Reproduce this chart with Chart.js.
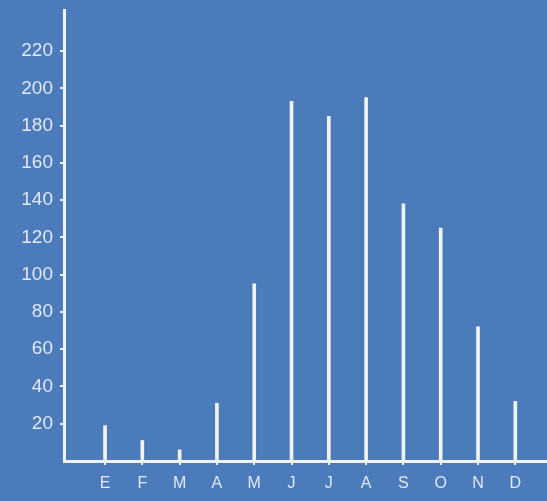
<!DOCTYPE html>
<html>
<head>
<meta charset="utf-8">
<script src="https://cdn.jsdelivr.net/npm/chart.js@4"></script>
<style>
  html, body { margin: 0; padding: 0; background: #4b7bbb; }
  #wrap { width: 547px; height: 501px; position: relative; }
</style>
</head>
<body>
<div id="wrap"><canvas id="chart"></canvas></div>
<script>
const months = ['E','F','M','A','M','J','J','A','S','O','N','D'];
const values = [19, 11, 6, 31, 95, 193, 185, 195, 138, 125, 72, 32];
const yTicks = [20, 40, 60, 80, 100, 120, 140, 160, 180, 200, 220];

const ink = '#f2f2ef';
const labelInk = '#e2e8f1';

const ctx = document.getElementById('chart');

new Chart(ctx, {
  type: 'bar',
  data: {
    datasets: [{
      data: values.map((v, i) => ({ x: i + 1, y: v })),
      backgroundColor: ink,
      borderWidth: 0,
      barThickness: 3
    }]
  },
  options: {
    responsive: true,
    maintainAspectRatio: false,
    animation: false,
    layout: { padding: { top: 10, right: 0, left: 0, bottom: 0 } },
    plugins: { legend: { display: false }, tooltip: { enabled: false } },
    scales: {
      x: {
        type: 'linear',
        offset: false,
        min: -0.1,
        max: 12.85,
        afterBuildTicks: (scale) => { scale.ticks = months.map((_, i) => ({ value: i + 1 })); },
        afterFit: (scale) => { scale.height = 40; },
        grid: { offset: false, drawOnChartArea: false, color: ink, lineWidth: 2, tickLength: 4 },
        border: { display: true, color: ink, width: 3 },
        ticks: {
          color: labelInk,
          font: { family: 'Liberation Sans, Arial, sans-serif', size: 16 },
          padding: 9,
          autoSkip: false,
          maxRotation: 0,
          callback: (v) => months[v - 1] ?? ''
        }
      },
      y: {
        min: 0,
        max: 242,
        afterBuildTicks: (scale) => { scale.ticks = yTicks.map((v) => ({ value: v })); },
        afterFit: (scale) => {
          scale.width = 64;
          scale.paddingTop = 0;
          scale.paddingBottom = 0;
        },
        grid: { drawOnChartArea: false, color: ink, lineWidth: 2, tickLength: 4 },
        border: { display: true, color: ink, width: 3 },
        ticks: {
          color: labelInk,
          font: { family: 'Liberation Sans, Arial, sans-serif', size: 19 },
          padding: 7
        }
      }
    }
  }
});
</script>
</body>
</html>
